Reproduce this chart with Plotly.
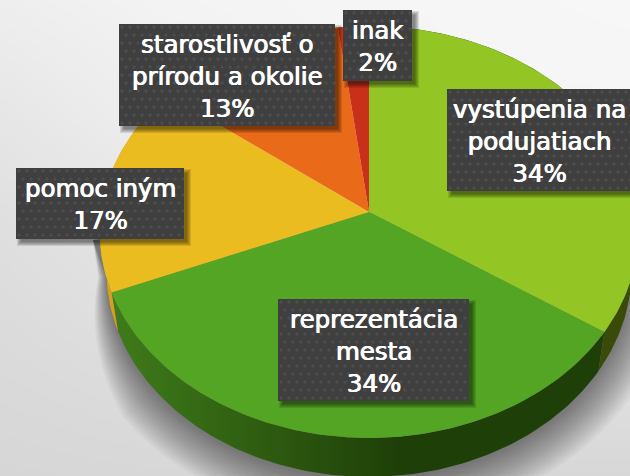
import math
import plotly.graph_objects as go

categories = ["vystúpenia na<br>podujatiach", "reprezentácia<br>mesta", "pomoc iným", "starostlivosť o<br>prírodu a okolie", "inak"]
values = [34.4, 34.4, 16.6, 12.6, 2.0]
top_colors = ["#93c524", "#54a524", "#eabc20", "#e96a18", "#c9301a"]
wall_scales = [
    ["#4a5c0a", "#3a4a08"],
    ["#3f7c1a", "#1f3f08"],
    ["#d8a018", "#c89010"],
    ["#c05a10", "#c05a10"],
    ["#a02810", "#a02810"],
]
label_boxes = [(447, 89, 632, 191), (278, 299, 469, 401), (16, 168, 184, 239), (119, 24, 335, 126), (343, 10, 412, 81)]
bg_x = [0, 157, 315, 472, 630]
bg_y = [0, 119, 238, 357, 476]
bg_grey = [
    [238, 243, 245, 246, 247],
    [230, 238, 243, 245, 245],
    [222, 229, 235, 238, 238],
    [218, 222, 226, 226, 226],
    [214, 215, 215, 215, 215],
]

AX, AY, A, B, K, DEPTH, S = 369, 212, 204, 268, 0.097, 39, 0.975


def rim(t_deg, grow=0.0):
    t = math.radians(t_deg)
    u, v = math.sin(t), math.cos(t)
    w = 1 + K * v
    return AX + (B + grow) * u / w, AY - (A + grow) * v / w


def low(t_deg, grow=0.0):
    x, y = rim(t_deg, grow)
    return AX + (x - AX) * S, y + DEPTH


def poly(xs, ys, **kw):
    return go.Scatter(x=xs, y=ys, mode="lines", line_width=0, fill="toself", hoverinfo="skip", showlegend=False, **kw)


fig = go.Figure()
fig.add_trace(go.Heatmap(x=bg_x, y=bg_y, z=bg_grey, zsmooth="best", showscale=False, hoverinfo="skip",
                         zmin=0, zmax=255, colorscale=[[0, "#000"], [1, "#fff"]]))

# soft shadow under the pie, tapering to nothing toward the upper left
for i in range(18):
    grow = 40 - i * 2.3
    ts = [50 + j * 3 for j in range(72)]
    pts = [low(t, grow * min(1.0, max(0.15, (272 - t) / 42))) for t in ts]
    xs = [p[0] for p in pts] + [93, AX, pts[0][0]]
    ys = [p[1] for p in pts] + [240, AY, pts[0][1]]
    fig.add_trace(poly(xs, ys, fillcolor="rgba(0,0,0,0.03)"))

total = sum(values)
angles = [0]
for v in values:
    angles.append(angles[-1] + 360 * v / total)

# side wall, then the top face of each slice
for i, v in enumerate(values):
    a0, a1 = angles[i], angles[i + 1]
    n = max(3, int(a1 - a0))
    ts = [a0 + (a1 - a0) * j / n for j in range(n + 1)]
    top = [rim(t) for t in ts]
    bot = [low(t) for t in reversed(ts)]
    fig.add_trace(poly([p[0] for p in top + bot], [p[1] for p in top + bot],
                       fillgradient=dict(type="horizontal", start=110, stop=400,
                                         colorscale=[[0, wall_scales[i][0]], [1, wall_scales[i][1]]])))
for i, v in enumerate(values):
    a0, a1 = angles[i], angles[i + 1]
    n = max(3, int(a1 - a0))
    ts = [a0 + (a1 - a0) * j / n for j in range(n + 1)]
    top = [rim(t) for t in ts]
    fig.add_trace(poly([AX] + [p[0] for p in top] + [AX], [AY] + [p[1] for p in top] + [AY], fillcolor=top_colors[i]))

annotations = []
for (cat, v, (x0, y0, x1, y1)) in zip(categories, values, label_boxes):
    for g in range(5):
        fig.add_trace(poly([x0 + g + 1, x1 + 7 - g, x1 + 7 - g, x0 + g + 1, x0 + g + 1],
                           [y0 + g + 1, y0 + g + 1, y1 + 7 - g, y1 + 7 - g, y0 + g + 1],
                           fillcolor="rgba(0,0,0,0.11)"))
    fig.add_trace(poly([x0, x1, x1, x0, x0], [y0, y0, y1, y1, y0], fillcolor="#3f3f3f"))
    dx, dy = [], []
    for r, yy in enumerate(range(y0 + 3, y1, 8)):
        for xx in range(x0 + 3 + (4 if r % 2 else 0), x1, 8):
            dx.append(xx)
            dy.append(yy)
    fig.add_trace(go.Scatter(x=dx, y=dy, mode="markers", hoverinfo="skip", showlegend=False,
                             marker=dict(size=3.5, color="rgba(255,255,255,0.07)", line_width=0)))
    annotations.append(dict(x=(x0 + min(x1, 630)) / 2 + (0 if x1 < 630 else 1), y=(y0 + y1) / 2 + 1, text=f"{cat}<br>{round(v)}%",
                            showarrow=False, xanchor="center", yanchor="middle", align="center",
                            font=dict(family="DejaVu Sans", size=24.5, color="#ffffff",
                                      shadow="0.5px 0 0 #ffffff, -0.4px 0 0 #ffffff")))

fig.update_layout(width=630, height=476, margin=dict(l=0, r=0, t=0, b=0), showlegend=False,
                  paper_bgcolor="#eeeeee", plot_bgcolor="#eeeeee", annotations=annotations,
                  xaxis=dict(range=[0, 630], visible=False, fixedrange=True),
                  yaxis=dict(range=[476, 0], visible=False, fixedrange=True))
fig.write_html("out.html", config={"displayModeBar": False},
               post_script="document.body.style.margin='0';document.body.style.overflow='hidden';")
